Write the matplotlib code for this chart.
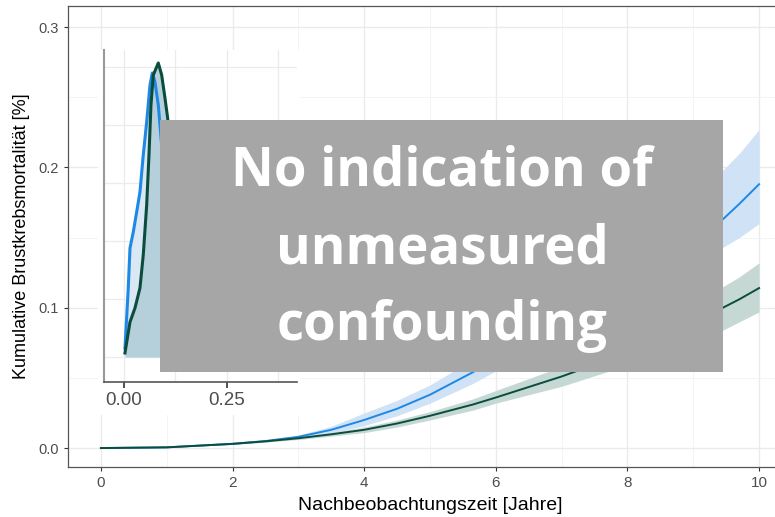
import numpy as np
import matplotlib.pyplot as plt
from matplotlib.patches import Rectangle

plt.rcParams['font.family'] = ['Liberation Sans', 'DejaVu Sans']

# main curves: cumulative breast cancer mortality [%]
years = [0, 1, 2, 2.5, 3, 3.5, 4, 4.5, 5, 5.65, 6, 7, 8, 9, 9.45, 9.7, 10]
blue = [0, 0.0005, 0.003, 0.005, 0.008, 0.013, 0.020, 0.028, 0.038, 0.054, 0.064, 0.092, 0.120, 0.148, 0.163, 0.174, 0.188]
blue_lo = [0, 0.0004, 0.0026, 0.0043, 0.0068, 0.0105, 0.016, 0.023, 0.032, 0.046, 0.055, 0.080, 0.103, 0.130, 0.143, 0.150, 0.160]
blue_hi = [0, 0.0006, 0.0034, 0.0057, 0.0092, 0.0155, 0.025, 0.034, 0.045, 0.063, 0.074, 0.106, 0.139, 0.176, 0.198, 0.210, 0.227]
green = [0, 0.0005, 0.003, 0.0048, 0.007, 0.0098, 0.013, 0.0175, 0.023, 0.031, 0.036, 0.051, 0.068, 0.088, 0.100, 0.106, 0.114]
green_lo = [0, 0.0004, 0.0026, 0.0042, 0.0061, 0.0085, 0.011, 0.015, 0.020, 0.027, 0.032, 0.044, 0.059, 0.076, 0.084, 0.090, 0.097]
green_hi = [0, 0.0006, 0.0034, 0.0054, 0.0079, 0.0111, 0.015, 0.020, 0.026, 0.035, 0.041, 0.058, 0.078, 0.102, 0.115, 0.122, 0.132]

# inset density curves
ins_bx = [0.0024, 0.0104, 0.0146, 0.0226, 0.0308, 0.0388, 0.0468, 0.0551, 0.0631, 0.0687, 0.0752, 0.0833, 0.10, 0.13, 0.17, 0.25, 0.40]
ins_by = [0.09, 0.69, 1.09, 1.25, 1.45, 1.65, 2.02, 2.35, 2.72, 2.84, 2.75, 2.52, 1.70, 0.70, 0.20, 0.02, 0.0]
ins_gx = [0.0024, 0.0146, 0.0267, 0.0388, 0.0468, 0.0551, 0.0607, 0.0655, 0.0711, 0.0833, 0.0915, 0.0995, 0.106, 0.13, 0.17, 0.22, 0.40]
ins_gy = [0.04, 0.35, 0.49, 0.69, 1.02, 1.52, 2.02, 2.52, 2.82, 2.94, 2.82, 2.59, 2.39, 1.30, 0.40, 0.06, 0.0]

overlay = ["No indication of", "unmeasured", "confounding"]

blue_c = '#1e88e5'
green_c = '#0b4d3c'
W, H = 775, 517

fig = plt.figure(figsize=(7.75, 5.17), dpi=100)
ax = fig.add_axes([68/W, 1-467/H, 724/W, 461/H])
ax.set_xlim(-0.5, 10.5)
ax.set_ylim(-0.0135, 0.315)

ax.fill_between(years, blue_lo, blue_hi, color='#cfe2f6', lw=0)
ax.fill_between(years, green_lo, green_hi, color='#c5d8d3', lw=0)
ax.plot(years, blue, color=blue_c, lw=1.4)
ax.plot(years, green, color=green_c, lw=1.4)

ax.set_xticks([0, 2, 4, 6, 8, 10])
ax.set_xticks([1, 3, 5, 7, 9], minor=True)
ax.set_yticks([0, 0.1, 0.2, 0.3])
ax.set_yticklabels(['0.0', '0.1', '0.2', '0.3'])
ax.set_yticks([0.05, 0.15, 0.25], minor=True)
ax.grid(which='major', color='#ebebeb', lw=1.0)
ax.grid(which='minor', color='#f2f2f2', lw=0.6)
ax.set_axisbelow(True)
ax.tick_params(which='major', length=3, color='#333333', labelcolor='#4d4d4d')
ax.tick_params(axis='x', which='major', labelsize=11)
ax.tick_params(axis='y', which='major', labelsize=10.5)
ax.tick_params(which='minor', length=0)
for s in ax.spines.values():
    s.set_color('#555555')
    s.set_linewidth(0.9)
ax.set_xlabel('Nachbeobachtungszeit [Jahre]', fontsize=14, color='black', labelpad=5)
ax.set_ylabel('Kumulative Brustkrebsmortalität [%]', fontsize=13, color='black', labelpad=6)

# white patch behind the pasted inset
ax.add_patch(Rectangle((98/W, 1-415/H), 202/W, 365/H, transform=fig.transFigure,
                       facecolor='white', edgecolor='none', zorder=5, clip_on=False))

ins = fig.add_axes([104/W, 1-382/H, 193/W, 332/H])
ins.set_xlim(-0.0485, 0.42)
ins.set_ylim(-0.25, 3.07)
ins.fill_between(ins_bx, 0, ins_by, color='#d9e8f4', lw=0)
ins.fill_between(ins_gx, 0, ins_gy, color='#b5cfdb', lw=0)
ins.plot(ins_bx, ins_by, color=blue_c, lw=2.2)
ins.plot(ins_gx, ins_gy, color=green_c, lw=2.2)
ins.set_xticks([0, 0.25])
ins.set_xticklabels(['0.00', '0.25'])
ins.set_xticks([0.125, 0.375], minor=True)
ins.set_yticks([0, 0.58, 1.16, 1.74, 2.32, 2.9])
ins.set_yticklabels([])
ins.grid(which='both', color='#ebebeb', lw=0.9)
ins.set_axisbelow(True)
ins.tick_params(axis='x', which='major', length=4, width=1.2, color='#333333', labelcolor='#4d4d4d', labelsize=13.5)
ins.tick_params(axis='x', which='minor', length=0)
ins.tick_params(axis='y', length=0)
ins.spines['top'].set_visible(False)
ins.spines['right'].set_visible(False)
ins.spines['left'].set_color('#999999')
ins.spines['left'].set_linewidth(1.5)
ins.spines['bottom'].set_color('#555555')
ins.spines['bottom'].set_linewidth(1.2)

# grey overlay box with text
fig.patches.append(Rectangle((160/W, 1-372/H), 563/W, 252/H, transform=fig.transFigure,
                             facecolor='#a6a6a6', edgecolor='none', zorder=10))
for i, line in enumerate(overlay):
    fig.text(442/W, 1-(172 + 77*i)/H, line, ha='center', va='center', color='white',
             fontsize=38, fontweight='bold', family='Open Sans', zorder=11)

fig.savefig('out.png', dpi=100)
